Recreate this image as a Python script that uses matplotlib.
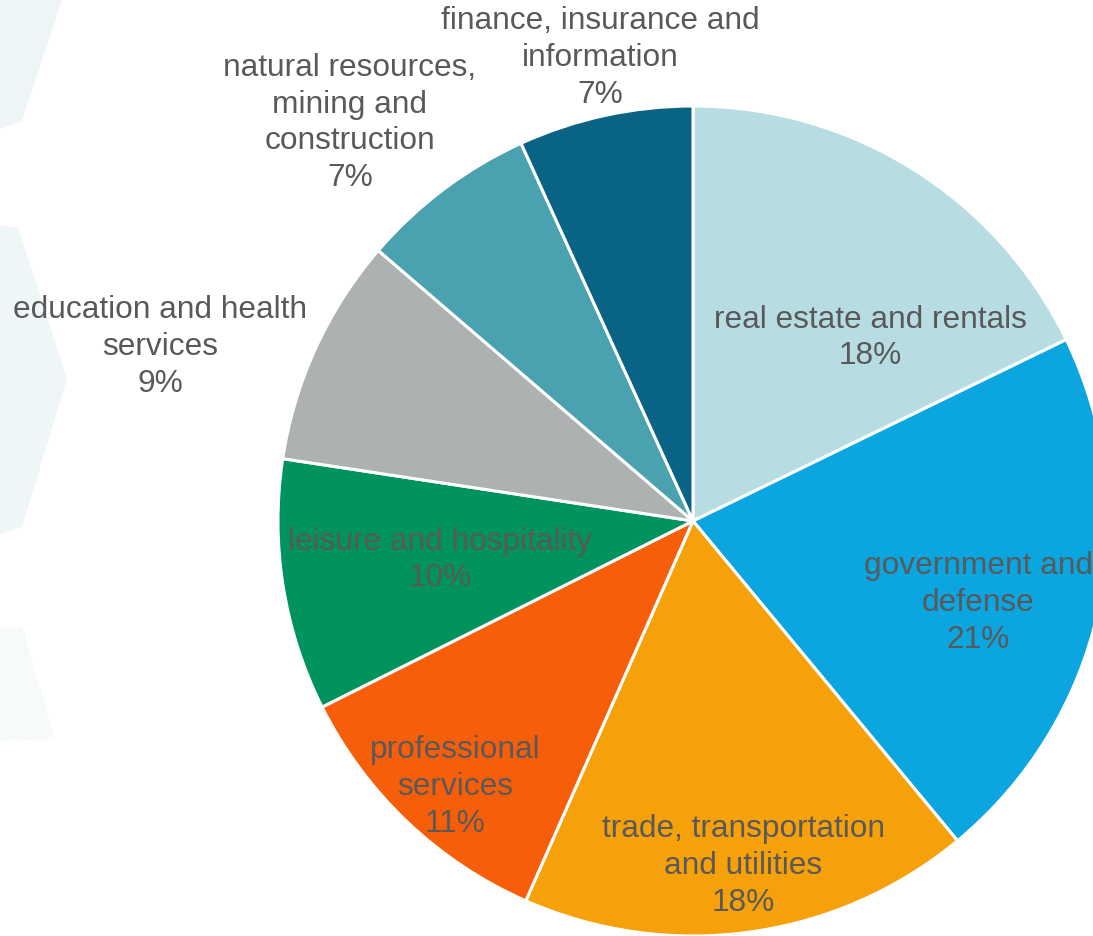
import matplotlib.pyplot as plt

# 各行业占比（%）
sectors = ['real estate and rentals', 'government and\ndefense', 'trade, transportation\nand utilities',
           'professional\nservices', 'leisure and hospitality', 'education and health\nservices',
           'natural resources,\nmining and\nconstruction', 'finance, insurance and\ninformation']
shares = [17.8, 21.2, 17.6, 11.0, 9.8, 8.9, 6.9, 6.8]
colors = ['#B7DDE3', '#0BA5DF', '#F7A10A', '#F75E0A', '#00935E', '#ADB1B1', '#4AA1AF', '#086384']

# 标签中心位置（像素，原点在左上角）
label_pos = [(870, 338), (978, 603), (743, 866), (455, 787),
             (440, 560), (160, 347), (350, 123), (600, 58)]

W, H = 1093, 937

fig = plt.figure(figsize=(W / 100, H / 100), dpi=100)
ax = fig.add_axes([0, 0, 1, 1])

# 背景左侧的浅色装饰块
deco = [
    ([(0, 0), (62, 0), (22, 122), (0, 130)], '#EDF5F7'),
    ([(0, 226), (18, 228), (67, 380), (22, 528), (0, 535)], '#EFF6F8'),
    ([(0, 630), (22, 628), (55, 740), (0, 742)], '#F7FAFA'),
]
for poly, c in deco:
    xs = [p[0] for p in poly]
    ys = [H - p[1] for p in poly]
    ax.fill(xs, ys, color=c, lw=0, zorder=0)

wedges, _ = ax.pie(shares, colors=colors, startangle=90, counterclock=False,
                   center=(693, H - 522), radius=415,
                   wedgeprops=dict(edgecolor='white', linewidth=2.2))

total = sum(shares)
for name, v, (x, y) in zip(sectors, shares, label_pos):
    ax.text(x, H - y, f'{name}\n{v / total * 100:.0f}%', ha='center', va='center',
            fontsize=22.8, color='#595959', linespacing=1.3,
            family=['Liberation Sans', 'DejaVu Sans'])

ax.set_xlim(0, W)
ax.set_ylim(0, H)
ax.set_aspect('auto')
ax.axis('off')

fig.savefig('out.png', dpi=100)
